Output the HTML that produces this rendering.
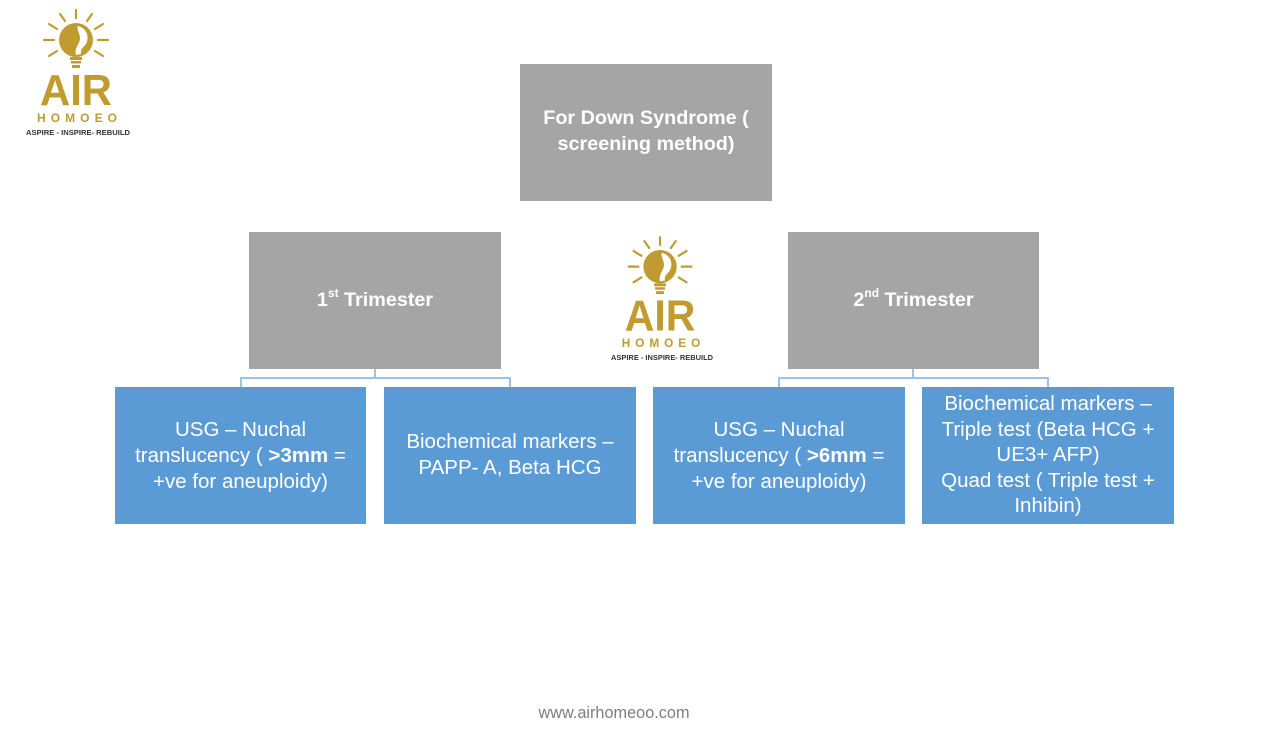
<!DOCTYPE html>
<html>
<head>
<meta charset="utf-8">
<style>
  html,body{margin:0;padding:0;}
  body{width:1282px;height:738px;background:#ffffff;position:relative;overflow:hidden;font-family:"Liberation Sans",sans-serif;}
  .box{position:absolute;display:flex;align-items:center;justify-content:center;text-align:center;color:#ffffff;box-sizing:border-box;}
  .box > div{white-space:nowrap;}
  .gray{background:#a5a5a5;font-weight:bold;font-size:19.8px;line-height:26px;}
  .blue{background:#5b9bd5;font-size:20.5px;line-height:26px;}
  .ln{position:absolute;background:#9dc3e6;}
  sup{font-size:12px;line-height:0;position:relative;top:-1px;vertical-align:super;}
  .logo{position:absolute;}
  .foot{position:absolute;left:0;width:1228px;top:704px;text-align:center;font-size:16.3px;color:#7f7f7f;}
</style>
</head>
<body>

<svg width="0" height="0" style="position:absolute">
  <defs>
    <g id="logo">
      <g stroke="#bf9b30" stroke-width="2.2" stroke-linecap="round">
        <line x1="50" y1="10" x2="50" y2="2"/>
        <line x1="61" y1="13" x2="66" y2="6"/>
        <line x1="39" y1="13" x2="34" y2="6"/>
        <line x1="69" y1="21" x2="77" y2="16"/>
        <line x1="31" y1="21" x2="23" y2="16"/>
        <line x1="72" y1="32" x2="82" y2="32"/>
        <line x1="28" y1="32" x2="18" y2="32"/>
        <line x1="69" y1="43" x2="77" y2="48"/>
        <line x1="31" y1="43" x2="23" y2="48"/>
      </g>
      <circle cx="50" cy="32" r="17" fill="#bf9b30"/>
      <path d="M52 18 C60 20 64 28 60 36 C57 40 54 41 55 46 L50 47 C48 40 54 36 54 30 C54 25 50 21 52 18 Z" fill="#ffffff"/>
      <rect x="44" y="49" width="12" height="3" fill="#bf9b30"/>
      <rect x="45" y="53" width="10" height="2.5" fill="#bf9b30"/>
      <rect x="46" y="57" width="8" height="3" fill="#bf9b30"/>
      <text x="50" y="97" text-anchor="middle" font-family="Liberation Sans, sans-serif" font-weight="bold" font-size="44" fill="#bf9b30" textLength="72" lengthAdjust="spacingAndGlyphs">AIR</text>
      <text x="51" y="114" text-anchor="middle" font-family="Liberation Sans, sans-serif" font-weight="bold" font-size="12" fill="#bf9b30" textLength="80" lengthAdjust="spacing">HOMOEO</text>
      <text x="52" y="127" text-anchor="middle" font-family="Liberation Sans, sans-serif" font-weight="bold" font-size="7.5" fill="#333333" textLength="104" lengthAdjust="spacingAndGlyphs">ASPIRE - INSPIRE- REBUILD</text>
    </g>
  </defs>
</svg>

<svg class="logo" style="left:26px;top:8px" width="106" height="132" viewBox="0 0 106 132"><use href="#logo"/></svg>
<svg class="logo" style="left:611px;top:235px" width="104" height="130" viewBox="0 0 106 132"><use href="#logo"/></svg>

<div class="box gray" style="left:520px;top:64px;width:252px;height:137px;"><div style="margin-top:-3px">For Down Syndrome (<br>screening method)</div></div>

<div class="box gray" style="left:249px;top:232px;width:252px;height:137px;"><div style="margin-top:-2px">1<sup>st</sup> Trimester</div></div>
<div class="box gray" style="left:788px;top:232px;width:251px;height:137px;"><div style="margin-top:-2px">2<sup>nd</sup> Trimester</div></div>

<!-- connectors left -->
<div class="ln" style="left:374px;top:369px;width:2px;height:9px;"></div>
<div class="ln" style="left:240px;top:377px;width:271px;height:2px;"></div>
<div class="ln" style="left:240px;top:377px;width:2px;height:10px;"></div>
<div class="ln" style="left:509px;top:377px;width:2px;height:10px;"></div>
<!-- connectors right -->
<div class="ln" style="left:912px;top:369px;width:2px;height:9px;"></div>
<div class="ln" style="left:778px;top:377px;width:271px;height:2px;"></div>
<div class="ln" style="left:778px;top:377px;width:2px;height:10px;"></div>
<div class="ln" style="left:1047px;top:377px;width:2px;height:10px;"></div>

<div class="box blue" style="left:115px;top:387px;width:251px;height:137px;"><div style="margin-top:0px">USG – Nuchal<br>translucency ( <b>&gt;3mm</b> =<br>+ve for aneuploidy)</div></div>
<div class="box blue" style="left:384px;top:387px;width:252px;height:137px;"><div style="margin-top:-2px">Biochemical markers –<br>PAPP- A, Beta HCG</div></div>
<div class="box blue" style="left:653px;top:387px;width:252px;height:137px;"><div style="margin-top:0px">USG – Nuchal<br>translucency ( <b>&gt;6mm</b> =<br>+ve for aneuploidy)</div></div>
<div class="box blue" style="left:922px;top:387px;width:252px;height:137px;"><div style="line-height:25.5px;margin-top:-1px">Biochemical markers –<br>Triple test (Beta HCG +<br>UE3+ AFP)<br>Quad test ( Triple test +<br>Inhibin)</div></div>

<div class="foot">www.airhomeoo.com</div>

</body>
</html>
